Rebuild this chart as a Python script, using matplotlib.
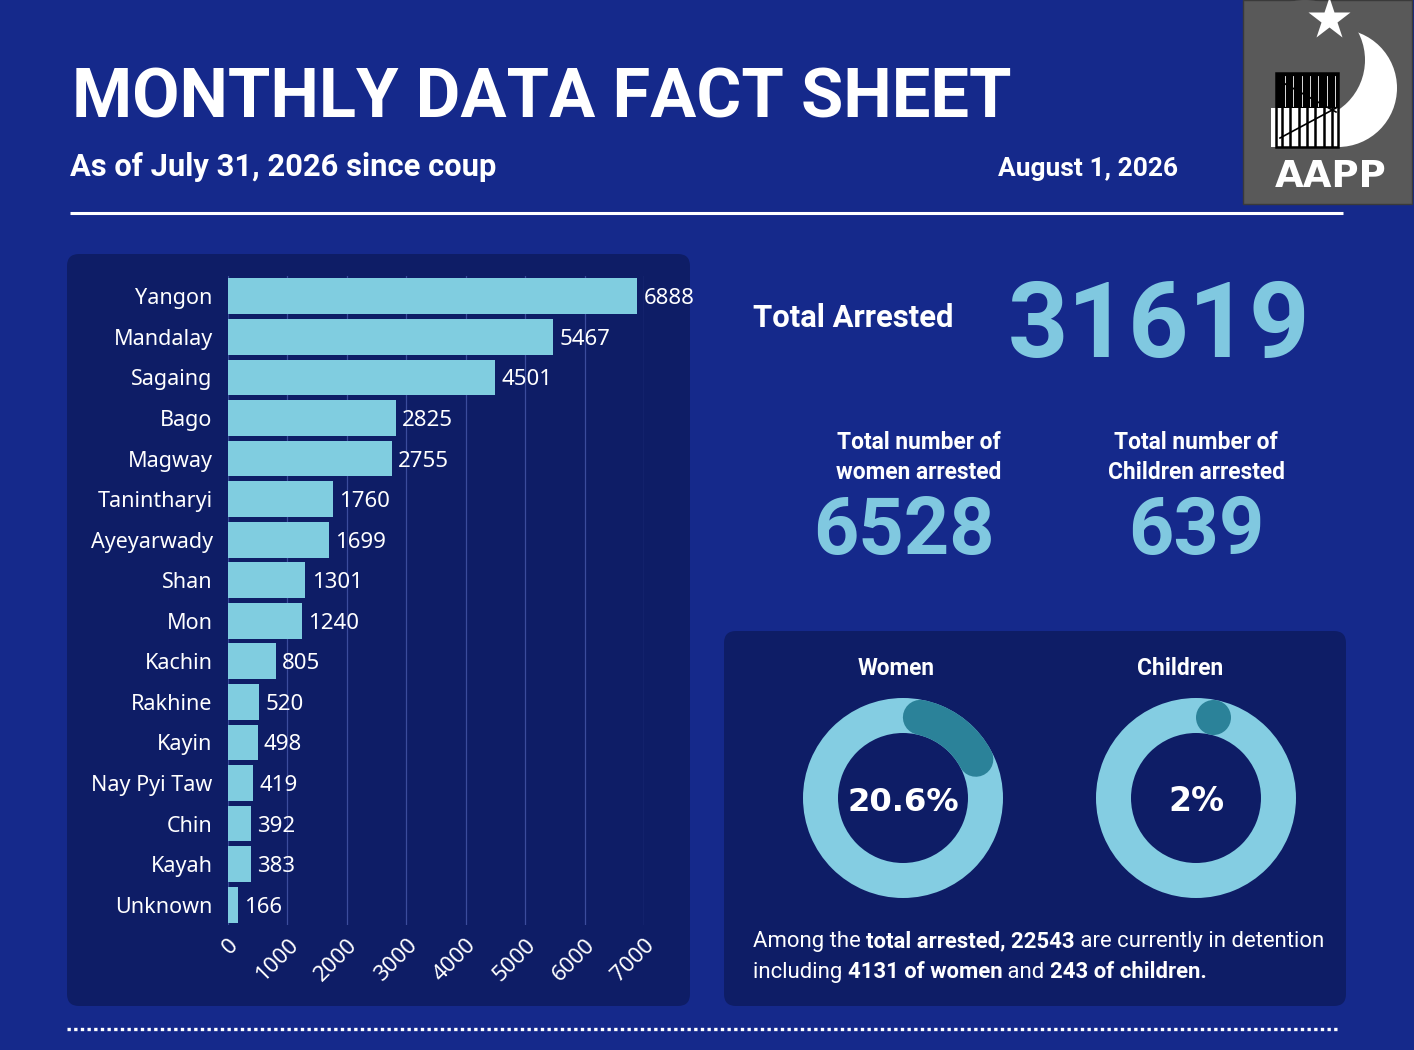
import matplotlib
matplotlib.use("Agg")
import matplotlib.pyplot as plt
from matplotlib.patches import FancyBboxPatch, Rectangle, Circle, Wedge
from matplotlib.transforms import ScaledTranslation
import numpy as np

# ---------------- data ----------------
regions = ["Yangon", "Mandalay", "Sagaing", "Bago", "Magway", "Tanintharyi",
           "Ayeyarwady", "Shan", "Mon", "Kachin", "Rakhine", "Kayin",
           "Nay Pyi Taw", "Chin", "Kayah", "Unknown"]
arrests = [6888, 5467, 4501, 2825, 2755, 1760, 1699, 1301, 1240, 805, 520,
           498, 419, 392, 383, 166]
xticks = [0, 1000, 2000, 3000, 4000, 5000, 6000, 7000]
total_arrested = 31619
women_arrested = 6528
children_arrested = 639
donut_labels = ["Women", "Children"]
donut_pcts = [20.6, 2]
donut_texts = ["20.6%", "2%"]
detained_total = 22543
detained_women = 4131
detained_children = 243

# ---------------- style ----------------
BG = "#15298b"
PANEL = "#0e1d66"
BAR = "#80cde0"
BIG = "#80c8e0"
RING = "#84cde2"
ARC = "#2b8299"
GRID = "#3b4c9c"
LOGO = "#595959"
HEAD = ["Roboto", "DejaVu Sans"]
BODY = ["Noto Sans", "DejaVu Sans"]

W, H = 1414, 1050
fig = plt.figure(figsize=(W / 100, H / 100), dpi=100)
fig.patch.set_facecolor(BG)
bg = fig.add_axes([0, 0, 1, 1])
bg.set_xlim(0, W)
bg.set_ylim(H, 0)
bg.axis("off")
renderer = fig.canvas.get_renderer()


def fit(x, y, s, width, size0=30, **kw):
    t = bg.text(x, y, s, fontsize=size0, **kw)
    bb = t.get_window_extent(renderer)
    t.set_fontsize(size0 * width / bb.width)
    return t


# ---------------- header ----------------
fit(72, 117, "MONTHLY DATA FACT SHEET", 938, family=HEAD, weight="bold",
    color="white", va="baseline", ha="left")
fit(70, 176, "As of July 31, 2026 since coup", 425, family=HEAD, weight="bold",
    color="white", va="baseline", ha="left")
fit(1178, 176, "August 1, 2026", 180, family=HEAD, weight="bold",
    color="white", va="baseline", ha="right")
bg.plot([70, 1343], [213, 213], color="white", lw=2.2, solid_capstyle="butt")

# logo
bg.add_patch(Rectangle((1243, 0), 169, 204, fc=LOGO, ec="#3a3a3a", lw=1))
bg.add_patch(Circle((1338, 88), 59, fc="white", ec="none"))
bg.add_patch(Circle((1305, 60), 60, fc=LOGO, ec="none"))
bg.plot([1329], [19], marker="*", ms=32, color="white", mec="none")
bg.add_patch(Rectangle((1271, 108), 67, 39, fc="white", ec="none"))
bg.add_patch(Rectangle((1276, 73), 62, 74, fc="none", ec="black", lw=1.8))
bg.add_patch(Rectangle((1276, 73), 62, 35, fc="black", ec="none"))
for bx in np.linspace(1282, 1332, 7):
    bg.plot([bx, bx], [75, 146], color="black", lw=1.8)
    bg.plot([bx + 3, bx + 3], [76, 106], color="white", lw=0.6)
bg.plot([1278, 1336], [80, 112], color="black", lw=1.2)
bg.plot([1280, 1336], [138, 108], color="black", lw=1.2)
fit(1331, 187, "AAPP", 112, family=["DejaVu Sans"], weight="bold",
    color="white", va="baseline", ha="center")

# ---------------- bar panel ----------------
bg.add_patch(FancyBboxPatch((67, 254), 623, 752,
                            boxstyle="round,pad=0,rounding_size=12",
                            fc=PANEL, ec="none"))


def px_axes(l, t, r, b):
    return fig.add_axes([l / W, 1 - b / H, (r - l) / W, (b - t) / H])


ax = px_axes(228, 276, 644, 925)
ax.set_facecolor("none")
ypos = np.arange(len(regions))
ax.barh(ypos, arrests, height=0.88, color=BAR, zorder=2)
ax.set_xlim(0, 7000)
ax.set_ylim(len(regions) - 0.5, -0.5)
ax.set_xticks(xticks)
ax.set_xticklabels([str(v) for v in xticks], rotation=45, ha="right",
                   va="top", rotation_mode="anchor", color="white",
                   fontsize=16, family=BODY)
for lab in ax.get_xticklabels():
    lab.set_transform(lab.get_transform() +
                      ScaledTranslation(9 / 100, 0, fig.dpi_scale_trans))
ax.set_yticks(ypos)
ax.set_yticklabels(regions, color="white", fontsize=15.5, family=BODY)
ax.tick_params(axis="both", length=0)
ax.tick_params(axis="y", pad=11)
ax.tick_params(axis="x", pad=7)
for s in ax.spines.values():
    s.set_visible(False)
ax.grid(axis="x", color=GRID, lw=0.9, zorder=0)
ax.set_axisbelow(True)
for yv, v in zip(ypos, arrests):
    ax.annotate(str(v), (v, yv), xytext=(4.5, 0), textcoords="offset points",
                va="center_baseline", ha="left", color="white", fontsize=16,
                family=BODY, annotation_clip=False)

# ---------------- totals ----------------
fit(753, 327, "Total Arrested", 200, family=HEAD, weight="bold",
    color="white", va="baseline", ha="left")
fit(1159, 357, str(total_arrested), 302, family=HEAD, weight="bold",
    color=BIG, va="baseline", ha="center")

for cx, line2, val, numw, w2 in [(919, "women arrested", women_arrested, 182, 165),
                                 (1196, "Children arrested", children_arrested, 136, 177)]:
    t1 = bg.text(cx, 449, "Total number of", family=HEAD, weight="bold",
                 color="white", va="baseline", ha="center", fontsize=20)
    t2 = bg.text(cx, 479, line2, family=HEAD, weight="bold",
                 color="white", va="baseline", ha="center", fontsize=20)
    bb = t2.get_window_extent(renderer)
    fs = 20 * w2 / bb.width
    t1.set_fontsize(fs)
    t2.set_fontsize(fs)
    fit(cx - 15 if val == women_arrested else cx, 554, str(val), numw,
        family=HEAD, weight="bold", color=BIG, va="baseline", ha="center")

# ---------------- donut panel ----------------
bg.add_patch(FancyBboxPatch((724, 631), 622, 375,
                            boxstyle="round,pad=0,rounding_size=12",
                            fc=PANEL, ec="none"))

centers = [(903, 798), (1196, 798)]
label_x = [896, 1180]
label_w = [77, 86]
r_out, thick = 100, 35
r_mid = r_out - thick / 2
for (cx, cy), lab, lx, lw_, pct, ptxt in zip(centers, donut_labels, label_x,
                                              label_w, donut_pcts, donut_texts):
    fit(lx, 675, lab, lw_, family=HEAD, weight="bold", color="white",
        va="baseline", ha="center")
    bg.add_patch(Wedge((cx, cy), r_out, 0, 360, width=thick, fc=RING, ec="none"))
    cap = np.degrees((thick / 2) / r_mid)
    total = pct * 3.6
    t0 = cap
    t1 = max(cap, total - cap)
    th = np.radians(np.linspace(t0, t1, 100))
    xs = cx + r_mid * np.sin(th)
    ys = cy - r_mid * np.cos(th)
    if t1 > t0:
        bg.plot(xs, ys, color=ARC, lw=thick * 0.72, solid_capstyle="round")
    else:
        bg.plot(xs[:1], ys[:1], marker="o", ms=thick * 0.72, color=ARC,
                mec="none")
    fit(cx, cy + 13, ptxt, 112 if pct > 10 else 56, family=["DejaVu Sans"],
        weight="bold", color="white", va="baseline", ha="center")

# bottom sentence with mixed weights
line1 = [("Among the ", "normal"),
         (f"total arrested, {detained_total}", "bold"),
         (" are currently in detention", "normal")]
line2 = [("including ", "normal"),
         (f"{detained_women} of women", "bold"),
         (" and ", "normal"),
         (f"{detained_children} of children.", "bold")]


def draw_runs(runs, x0, y, fs):
    x = x0
    made = []
    for s, w in runs:
        t = bg.text(x, y, s, family=HEAD, weight=w, color="white",
                    va="baseline", ha="left", fontsize=fs)
        made.append(t)
        x = x + t.get_window_extent(renderer).width
    return x, made


tmp_end, tmp = draw_runs(line1, 753, -500, 20)
fs_body = 20 * 570 / (tmp_end - 753)
for t in tmp:
    t.remove()
draw_runs(line1, 753, 947, fs_body)
draw_runs(line2, 753, 978, fs_body)

# dotted separator
bg.plot([67, 1340], [1029, 1029], color="white", lw=2.4,
        linestyle=(0, (1, 1)), dash_capstyle="butt")

fig.savefig("out.png", dpi=100, facecolor=BG)
